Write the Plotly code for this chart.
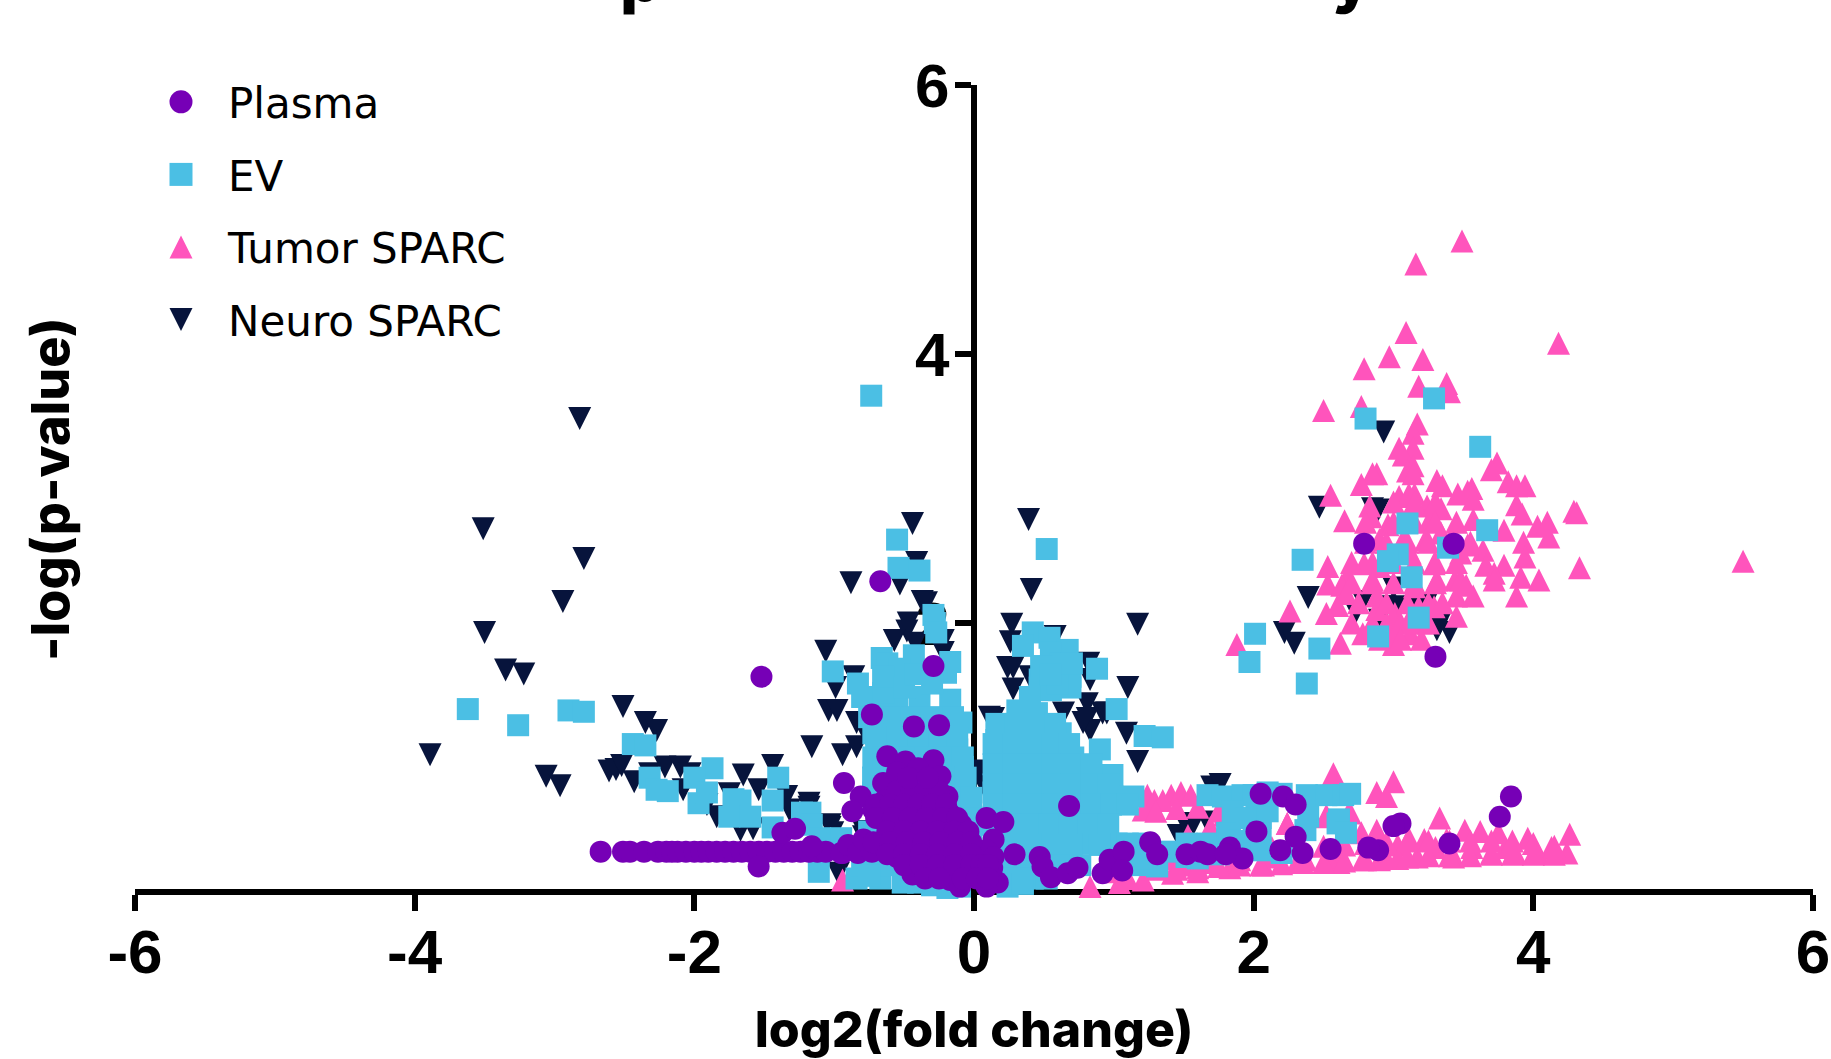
import plotly.graph_objects as go

neuro_x = [-2.82,-3.51,-2.79,-2.94,-3.50,-3.35,-3.22,-2.51,-2.35,-2.27,-3.89,-3.06,-2.96,-2.61,-2.56,-2.52,-2.43,-2.21,-2.10,-2.03,-1.65,-1.44,-1.54,-1.75,-1.84,-1.67,-1.58,-1.34,-1.29,-1.91,-2.08,-2.32,-1.18,-1.03,-1.01,-0.79,
 -0.44,-0.41,-0.88,-0.53,-0.37,-0.34,-0.47,-0.48,-0.57,-0.42,-1.06,-0.22,-0.22,-0.86,-0.99,-1.04,-0.98,-0.84,-1.16,-0.94,-0.84,-1.18,-0.97,-0.76,-1.03,-0.79,-1.32,0.04,0.06,0.03,
 0.39,0.41,1.17,0.27,0.26,0.58,0.24,0.28,0.28,0.40,0.82,0.83,1.10,0.81,0.64,0.81,0.92,0.14,0.95,1.09,1.17,0.83,0.78,0.64,1.01,0.87,1.54,1.46,1.67,0.11,1.51,1.57,1.70,1.76,
 2.93,2.47,2.39,2.22,2.29,2.73,3.33,3.40,3.31,3.00,2.90,2.85,2.89,2.78,2.94,3.03,3.23,3.14]
neuro_y = [3.52,2.70,2.48,2.16,1.93,1.65,1.62,1.38,1.26,1.20,1.02,0.86,0.79,0.90,0.91,0.94,0.82,0.93,0.93,0.88,0.87,0.94,0.76,0.73,0.56,0.46,0.47,0.71,0.57,0.65,0.76,0.88,0.63,0.50,0.44,0.41,
 2.74,2.45,2.30,2.29,2.16,2.15,2.00,1.94,1.87,1.85,1.79,1.87,1.78,1.60,1.52,1.35,1.35,1.26,1.08,1.02,1.08,0.66,0.14,1.15,0.48,0.45,0.61,0.87,0.81,0.90,
 2.77,2.25,1.99,1.99,1.86,1.90,1.67,1.67,1.51,1.60,1.70,1.58,1.52,1.40,1.33,1.29,1.33,1.29,1.33,1.18,0.97,1.20,1.26,1.08,0.61,0.48,0.51,0.42,0.52,1.30,0.51,0.51,0.78,0.80,
 3.42,2.86,2.19,1.93,1.85,2.08,1.99,1.93,1.95,2.26,2.02,2.85,2.84,2.16,2.12,2.12,2.13,2.10]

tumor_x = [3.49,3.16,3.09,4.18,2.97,3.21,2.79,3.38,3.40,3.18,2.77,2.50,3.17,3.14,3.04,3.14,3.07,3.14,3.10,3.14,3.74,3.70,2.88,2.85,2.77,3.31,3.35,3.82,3.88,3.94,3.46,3.56,3.53,3.57,3.04,3.11,3.15,2.55,3.88,3.92,2.83,3.34,3.24,4.29,4.31,2.65,2.84,2.96,3.57,3.79,4.03,4.10,4.11,3.93,3.64,3.94,3.66,3.79,3.72,3.72,3.91,4.04,4.33,5.50,3.88,3.57,3.45,3.45,3.44,3.48,3.52,3.48,3.53,2.53,2.53,2.67,2.63,2.60,2.52,2.26,1.88,2.62,2.78,2.85,3.00,3.00,3.12,3.10,3.01,2.88,2.88,2.85,2.79,2.90,3.07,3.26,3.23,3.29,3.31,3.15,3.18,3.29,3.12,2.90,2.66,3.34,
 3.00,3.15,3.30,2.80,3.00,3.15,3.30,3.45,2.80,2.95,3.10,3.25,3.40,3.55,2.70,2.85,3.00,3.15,3.30,3.45,2.70,2.85,3.00,3.15,3.30,2.75,2.95,3.10,3.25,3.35,2.70,2.95,3.05,3.20,3.25,2.90,3.05,3.20,
 2.57,2.88,3.00,2.95,3.33,3.51,3.62,3.75,3.96,4.13,4.26,4.24,3.87,4.03,3.70,3.43,3.17,2.90,2.61,3.11,3.22,3.38,2.88,2.77,3.56,3.30,3.03,3.80,2.52,2.69,2.24,2.13,2.37,
 1.24,1.29,1.41,1.48,1.55,1.21,1.35,1.53,1.69,1.79,2.24,2.52,2.68,1.21,1.24,1.42,1.60,1.83,2.07,2.31,2.55,2.78,3.03,
 -0.94,-0.80,-0.45,-0.15,0.05,0.20,0.40,0.60,0.83,1.04,1.30,1.50,1.70,1.90,2.10,1.10,1.40,1.00,
 1.30,1.45,1.60,1.75,1.90,2.05,2.20,2.35,2.50,2.65,2.80,2.95,3.10,3.25,3.40,3.55,3.70,3.85,4.00,4.15,
 1.30,1.45,1.60,1.75,2.50,2.65,2.80,2.95,3.10,3.25,3.40,3.55,3.70,3.85,4.00,4.15,1.30,1.45,1.60,1.75]
tumor_y = [4.84,4.67,4.16,4.08,3.98,3.96,3.89,3.78,3.72,3.76,3.61,3.58,3.48,3.41,3.30,3.30,3.25,3.17,3.13,3.11,3.19,3.14,3.11,3.11,3.03,3.06,3.02,3.05,3.02,3.02,2.96,3.00,2.98,2.92,2.94,2.96,2.96,2.95,2.88,2.81,2.87,2.85,2.87,2.83,2.82,2.76,2.79,2.73,2.77,2.69,2.72,2.75,2.64,2.60,2.54,2.49,2.43,2.43,2.37,2.32,2.34,2.32,2.41,2.46,2.20,2.20,2.05,2.20,2.32,2.32,2.28,2.52,2.58,2.42,2.29,2.35,2.28,2.13,2.07,2.09,1.84,1.85,1.92,2.00,1.91,1.84,1.92,2.00,2.07,2.20,2.10,2.32,2.44,2.62,2.62,2.77,2.62,2.44,2.32,2.27,2.12,2.12,2.52,2.42,2.22,2.67,
 2.90,2.90,2.90,2.75,2.75,2.75,2.75,2.75,2.60,2.60,2.60,2.60,2.60,2.60,2.45,2.45,2.45,2.45,2.45,2.45,2.30,2.30,2.30,2.30,2.30,2.15,2.15,2.15,2.15,2.15,2.00,2.00,2.00,2.00,2.00,1.88,1.88,1.88,
 0.88,0.74,0.82,0.71,0.55,0.46,0.45,0.44,0.40,0.33,0.43,0.29,0.29,0.29,0.29,0.26,0.26,0.24,0.22,0.40,0.39,0.39,0.46,0.44,0.33,0.33,0.35,0.33,0.57,0.59,0.51,0.33,0.24,
 0.72,0.68,0.72,0.74,0.72,0.61,0.68,0.42,0.48,0.57,0.51,0.56,0.59,0.09,0.22,0.14,0.15,0.18,0.20,0.22,0.22,0.24,0.25,
 0.09,0.00,-0.05,-0.09,-0.07,-0.05,-0.02,0.00,0.04,0.07,0.30,0.20,0.22,0.24,0.26,0.10,0.25,0.15,
 0.17,0.17,0.18,0.19,0.20,0.20,0.21,0.22,0.22,0.23,0.24,0.25,0.26,0.27,0.27,0.27,0.28,0.28,0.28,0.28,
 0.30,0.30,0.30,0.30,0.34,0.35,0.36,0.37,0.38,0.38,0.38,0.38,0.38,0.38,0.36,0.34,0.60,0.62,0.63,0.60]

ev_x = [-0.735,0.52,3.29,2.80,3.62,3.10,3.67,3.39,3.03,2.96,2.35,3.13,3.18,2.89,2.47,2.01,1.97,2.38,
 -3.62,-3.26,-2.90,-2.79,-2.44,-2.35,-2.32,-2.27,-2.19,-1.87,-2.00,-1.97,-1.91,-1.72,-1.67,-1.75,-1.60,-1.44,-1.44,-1.40,-1.23,-1.17,-1.16,-1.03,-0.91,-1.11,-0.84,
 -0.55,-0.54,-0.39,-0.29,-0.28,-0.27,-0.66,-0.62,-0.43,-0.17,-1.01,-0.83,-0.20,-0.53,-0.61,-0.80,-0.39,-0.17,-0.55,-0.09,-0.69,-0.72,-0.69,-0.65,-0.72,-0.72,-0.72,-0.19,-0.12,-0.08,-0.10,-0.03,-0.03,
 -0.67,-0.51,-0.30,-0.19,0.08,-0.05,0.24,-0.45,-0.30,-0.50,-0.60,-0.40,-0.25,
 0.42,0.35,0.54,0.67,0.88,1.02,1.22,1.35,0.56,0.47,0.69,0.31,0.45,0.19,0.16,0.62,0.38,0.16,0.38,0.59,0.71,0.90,0.99,0.78,1.14,0.99,0.14,0.31,0.14,0.54,0.78,0.83,0.64,0.31,0.49,1.02,1.21,1.31,1.52,1.67,1.81,2.02,2.05,2.05,1.67,1.78,1.92,2.10,2.39,2.37,2.60,2.38,2.52,2.64,2.69,2.61,2.66,2.20,1.52,1.69,1.83,0.47,0.69,
 0.16,0.30,0.44,0.58,0.14,0.28,0.42,0.56,0.68,0.14,0.28,0.42,0.56,0.70,0.84,0.14,0.28,0.42,0.56,0.70,0.84,0.96,0.14,0.28,0.42,0.56,0.70,0.84,0.98,1.10,0.12,0.26,0.40,0.54,0.68,0.82,0.96,0.14,0.28,0.42,0.56,0.70,0.90,0.20,0.34,0.48,0.62,0.76,1.10,1.25,0.28,0.42,0.52,
 -0.75,-0.60,-0.45,-0.30,-0.15,-0.70,-0.55,-0.40,-0.25,-0.12,-0.65,-0.50,-0.35,-0.20,-0.08,-0.72,-0.60,-0.45,-0.30,-0.15,-0.06,-0.60,-0.40,-0.10,-0.02,-0.30,-0.02,-0.65,-0.65,-0.02,-0.80,-0.65,-0.50,-0.30,-0.10,0.06,
 -1.10,-0.95,-0.75,-0.65,-0.50,-0.30,-0.42,0.55,0.40,
 1.10,1.20,1.40,1.60,1.75,1.90,2.05,2.20,2.00,1.85,1.95,2.00,2.10,
 0.55,0.62,0.60,0.70,0.48,0.55,-0.75,-0.40,-0.10,0.15,0.35]
ev_y = [3.69,2.55,3.67,3.52,3.31,2.74,2.69,2.56,2.51,2.46,2.47,2.34,2.04,1.90,1.81,1.92,1.71,1.55,
 1.36,1.24,1.35,1.34,1.10,1.09,0.85,0.76,0.75,0.92,0.85,0.66,0.74,0.69,0.68,0.56,0.56,0.68,0.48,0.85,0.59,0.59,0.50,0.39,0.33,0.15,0.10,
 2.62,2.41,2.39,2.06,2.00,1.93,1.74,1.70,1.76,1.71,1.64,1.55,1.63,1.66,1.51,1.45,1.45,1.43,1.38,1.26,0.96,1.18,1.33,1.48,1.00,0.74,0.85,1.18,1.06,0.93,0.61,0.44,0.29,
 0.10,0.07,0.05,0.03,0.00,0.01,0.04,1.20,1.05,0.95,0.60,0.90,0.80,
 1.93,1.83,1.89,1.80,1.66,1.36,1.16,1.15,1.70,1.58,1.60,1.35,1.33,1.23,1.13,1.18,1.13,0.96,0.93,0.88,1.00,1.06,0.87,0.83,0.71,0.71,0.74,0.63,0.56,0.59,0.63,0.36,0.39,0.39,0.39,0.36,0.36,0.19,0.36,0.36,0.44,0.63,0.46,0.31,0.72,0.71,0.72,0.74,0.56,0.46,0.51,0.72,0.72,0.72,0.73,0.54,0.44,0.29,0.26,0.29,0.44,1.52,1.52,
 1.25,1.25,1.25,1.25,1.10,1.10,1.10,1.10,1.10,0.95,0.95,0.95,0.95,0.95,0.95,0.80,0.80,0.80,0.80,0.80,0.80,0.80,0.65,0.65,0.65,0.65,0.65,0.65,0.65,0.65,0.50,0.50,0.50,0.50,0.50,0.50,0.50,0.35,0.35,0.35,0.35,0.35,0.35,0.20,0.20,0.20,0.20,0.20,0.20,0.20,0.10,0.10,0.10,
 1.30,1.30,1.30,1.30,1.30,1.15,1.15,1.15,1.15,1.15,1.00,1.00,1.00,1.00,1.00,0.85,0.85,0.85,0.85,0.85,0.85,0.70,0.70,0.70,0.70,0.55,0.55,0.55,0.40,0.40,0.20,0.20,0.20,0.20,0.20,0.20,
 0.40,0.40,0.45,1.60,1.52,1.55,1.62,1.50,1.45,
 0.36,0.25,0.30,0.25,0.28,0.38,0.55,0.73,0.72,0.60,0.55,0.45,0.60,
 1.78,1.70,1.55,1.70,1.68,1.62,0.12,0.07,0.04,0.02,0.06]

plasma_x = [-2.67,-2.51,-2.46,-2.36,-2.26,-2.20,-2.16,-2.12,-2.06,-2.00,-1.95,-1.90,-1.84,-1.78,-1.72,-1.66,-1.60,-1.54,-1.48,-1.42,-1.36,-1.30,-1.24,-1.18,-1.12,-1.06,-0.95,
 -1.54,-1.37,-1.28,-1.16,-1.52,-0.67,-0.73,-0.43,-0.25,-0.62,-0.49,-0.29,-0.24,-0.93,-0.65,-0.55,-0.81,-0.87,-0.72,-0.19,-0.18,-0.09,-0.44,-0.64,-0.55,-0.39,-0.26,-0.60,-0.44,-0.08,-0.19,-0.34,-0.55,-0.44,-0.17,-0.01,0.17,0.09,-0.10,0.06,
 0.09,0.21,0.14,0.09,0.14,0.29,0.13,-0.94,-0.90,-0.83,-0.73,-0.79,-0.29,0.68,0.47,0.49,0.55,0.67,0.74,0.92,0.97,1.07,1.06,1.26,1.31,1.52,1.62,1.67,1.83,1.92,1.80,2.05,2.21,2.30,2.02,2.19,2.30,2.35,2.55,3.84,3.76,3.40,3.05,3.00,2.89,2.82,2.79,3.43,3.30,
 -0.55,-0.45,-0.35,-0.25,-0.70,-0.60,-0.50,-0.40,-0.30,-0.20,-0.70,-0.58,-0.46,-0.34,-0.22,-0.12,-0.62,-0.50,-0.38,-0.26,-0.14,-0.04,-0.72,-0.60,-0.48,-0.36,-0.24,-0.12,-0.02,-0.62,-0.50,-0.38,-0.26,-0.14,-0.02,-0.50,-0.38,-0.26,-0.14,-0.02,0.05,0.10,-0.35,-0.25,-0.08,0.02,0.10,
 -0.40,-0.47,-0.33]
plasma_y = [0.30,0.30,0.30,0.30,0.30,0.30,0.30,0.30,0.30,0.30,0.30,0.30,0.30,0.30,0.30,0.30,0.30,0.30,0.30,0.30,0.30,0.30,0.30,0.30,0.30,0.30,0.29,
 0.19,0.44,0.47,0.34,1.60,2.31,1.32,1.23,1.24,1.01,0.97,0.98,0.86,0.81,0.81,0.89,0.71,0.60,0.61,0.71,0.59,0.50,0.71,0.68,0.59,0.56,0.48,0.44,0.39,0.36,0.31,0.29,0.26,0.13,0.09,0.00,0.07,0.04,0.04,0.14,
 0.55,0.52,0.39,0.31,0.26,0.28,0.18,0.29,0.35,0.29,0.30,0.39,1.68,0.64,0.26,0.19,0.11,0.14,0.18,0.14,0.24,0.30,0.16,0.37,0.28,0.28,0.30,0.28,0.33,0.25,0.28,0.73,0.71,0.65,0.45,0.31,0.41,0.29,0.32,0.71,0.56,0.36,0.51,0.49,0.31,0.33,2.59,2.59,1.75,
 0.75,0.75,0.75,0.75,0.65,0.65,0.65,0.65,0.65,0.65,0.55,0.55,0.55,0.55,0.55,0.55,0.45,0.45,0.45,0.45,0.45,0.45,0.37,0.37,0.37,0.37,0.37,0.37,0.37,0.28,0.28,0.28,0.28,0.28,0.28,0.20,0.20,0.20,0.20,0.20,0.20,0.20,0.10,0.10,0.10,0.10,0.10,
 0.92,0.85,0.85]

xticks = [-6,-4,-2,0,2,4,6]
xticklabels = ["-6","-4","-2","0","2","4","6"]
yticks = [0,2,4,6]
yticklabels = ["","2","4","6"]

HALF = 11.5
fig = go.Figure()
series = [("Neuro SPARC", neuro_x, neuro_y, "triangle-down", "#07143C", 4),
          ("Tumor SPARC", tumor_x, tumor_y, "triangle-up", "#FF54BC", 3),
          ("EV", ev_x, ev_y, "square", "#4BBFE4", 2),
          ("Plasma", plasma_x, plasma_y, "circle", "#7600B6", 1)]
for name, xs, ys, sym, col, rank in series:
    fig.add_trace(go.Scatter(x=xs, y=ys, mode="markers", name=name, legendgroup=name, legendrank=rank,
                             cliponaxis=False,
                             marker=dict(symbol=sym, size=22, color=col, line=dict(width=0))))

L, R, T, B = 135, 1813, 85, 889
tick_font = dict(family="Liberation Sans", size=62, color="#000000", weight=700)
fig.update_layout(
    width=1831, height=1059, margin=dict(l=L, r=1831-R, t=T, b=1059-B, autoexpand=False),
    paper_bgcolor="white", plot_bgcolor="white",
    font=dict(family="Inter", color="#000000"),
    xaxis=dict(range=[-6,6], tickmode="array", tickvals=xticks, ticktext=xticklabels, showgrid=False, zeroline=False,
               showline=True, linewidth=6, linecolor="#000", ticks="outside", ticklen=16, tickwidth=6, tickcolor="#000",
               tickfont=tick_font, layer="below traces", ticklabelstandoff=-12,
               title=dict(text="log2(fold change)", standoff=42, font=dict(family="Inter", size=50, weight=800))),
    yaxis=dict(range=[(892-B)/134.5,6], tickmode="array", tickvals=yticks, ticktext=yticklabels, showgrid=False, zeroline=False,
               anchor="free", position=(974-L)/(R-L),
               showline=True, linewidth=6, linecolor="#000", ticks="outside", ticklen=16, tickwidth=6, tickcolor="#000",
               tickfont=tick_font, layer="below traces", ticklabelstandoff=-7),
    showlegend=True,
    legend=dict(x=(134-L)/(R-L), y=(B-68)/(B-T), xanchor="left", yanchor="top", itemwidth=84, tracegroupgap=15,
                font=dict(family="DejaVu Sans", size=42, color="#000"), bgcolor="rgba(0,0,0,0)"),
    annotations=[
        dict(text="-log(p-value)", xref="paper", yref="paper", x=(50-L)/(R-L), y=(B-489)/(B-T), textangle=-90,
             showarrow=False, xanchor="center", yanchor="middle", font=dict(family="Inter", size=52, weight=800, color="#000")),
        dict(text="p", xref="paper", yref="paper", x=(640-L)/(R-L), y=(B-18)/(B-T), showarrow=False, xanchor="center", yanchor="bottom",
             font=dict(family="Inter", size=64, weight=800, color="#000")),
        dict(text="y", xref="paper", yref="paper", x=(1352-L)/(R-L), y=(B-18)/(B-T), showarrow=False, xanchor="center", yanchor="bottom",
             font=dict(family="Inter", size=64, weight=800, color="#000")),
    ],
)

script = """
document.body.style.margin = '0';
var r = %s;
var up = 'M-'+r+','+r+'H'+r+'L0,-'+r+'Z';
var dn = 'M-'+r+',-'+r+'H'+r+'L0,'+r+'Z';
var circ = 'M'+r+',0A'+r+','+r+' 0 1,1 0,-'+r+'A'+r+','+r+' 0 0,1 '+r+',0Z';
var sq = 'M'+r+','+r+'H-'+r+'V-'+r+'H'+r+'Z';
var traces = document.querySelectorAll('.scatterlayer .trace');
[dn, up].forEach(function(d, i) {
  traces[i].querySelectorAll('path.point').forEach(function(p) { p.setAttribute('d', d); });
});
var glyphs = [circ, sq, up, dn];
document.querySelectorAll('.legend .traces').forEach(function(t, i) {
  t.querySelectorAll('path.scatterpts').forEach(function(p) { p.setAttribute('d', glyphs[i]); });
});
""" % HALF

fig.write_html("out.html", post_script=script, config={"displayModeBar": False})
